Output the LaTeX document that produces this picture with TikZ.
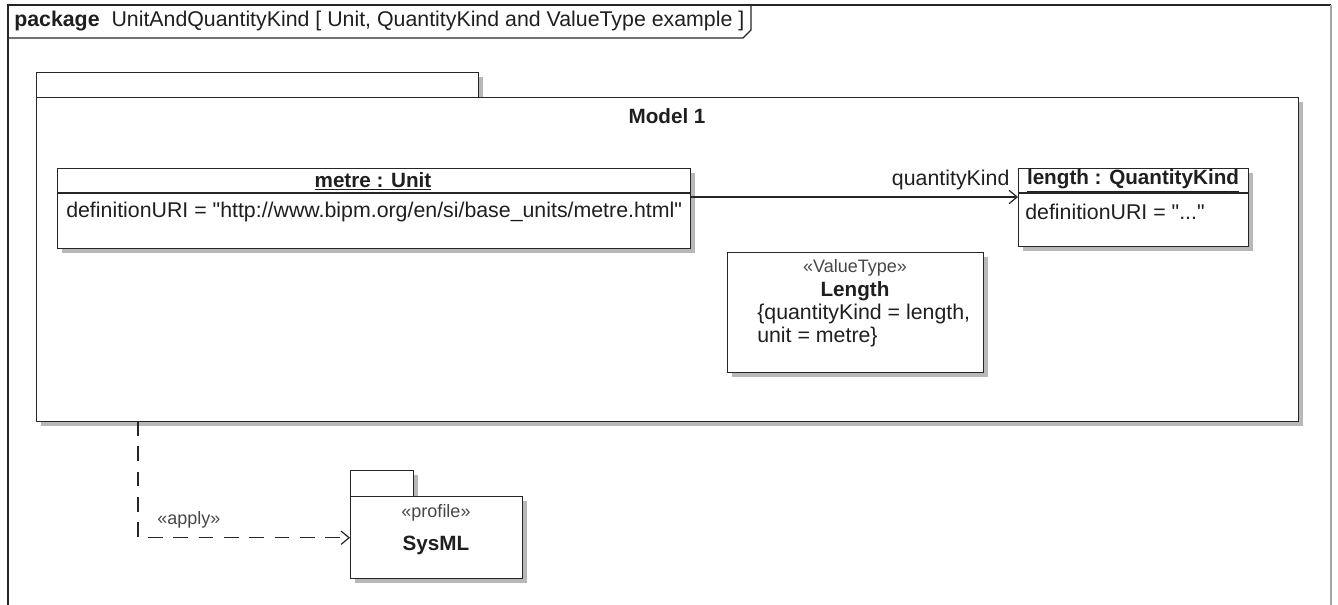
\documentclass[tikz,border=0pt]{standalone}
\usepackage{fontspec}
\setmainfont{Liberation Sans}
\usetikzlibrary{positioning,shadows,arrows.meta}

\newcommand\upx{0.75pt}
\newcommand\qq{\textquotedbl}

\tikzset{
  elem/.style={draw=black!85, line width=1.1pt, fill=white, anchor=north west, inner sep=0pt,
    drop shadow={shadow xshift=3pt, shadow yshift=-3pt, fill=black!28, opacity=1}},
  plain/.style={inner sep=0pt, text=black!88, font=\fontsize{16}{16.8}\selectfont},
  bold/.style={plain, font=\fontsize{15.5}{16.8}\selectfont\bfseries},
  stereo/.style={inner sep=0pt, text=black!72, font=\fontsize{13.5}{15}\selectfont},
  link/.style={draw=black!85, line width=0.9pt, -{Straight Barb[length=6pt,width=10pt]}},
}

\begin{document}
\begin{tikzpicture}[x=0.75pt, y=-0.75pt]
\useasboundingbox (0,0) rectangle (1338,605);

% diagram frame
\draw[black!85, line width=1pt] (8,605) -- (8,5) -- (1331,5);
\draw[black!35, line width=1pt] (1331,5) -- (1331,605);
\draw[black!85, line width=1pt] (8,38) -- (743,38) -- (751,30) -- (751,5);
\node[plain, anchor=west] (frametitle) at (14,21) {\textbf{package}\ \ UnitAndQuantityKind [ Unit, QuantityKind and ValueType example ]};

% Model 1
\node[elem, minimum width=442*\upx, minimum height=25*\upx] (modeltab) at (36,72) {};
\node[elem, minimum width=1262*\upx, minimum height=324*\upx] (model) at (36,97) {};
\node[bold] (modelname) at (667,116) {Model 1};

% metre : Unit
\node[elem, minimum width=633*\upx, minimum height=80*\upx] (metre) at (57,168) {};
\draw[black!85, line width=1.1pt] (metre.west |- 0,193) -- (metre.east |- 0,193);
\node[bold] (metretitle) at (373,181) {\underline{metre : Unit}};
\node[plain, anchor=west] (metreuri) at (66,212) {definitionURI = \qq http://www.bipm.org/en/si/base\_units/metre.html\qq};

% length : QuantityKind
\node[elem, minimum width=230*\upx, minimum height=78*\upx] (length) at (1018,168) {};
\draw[black!85, line width=1.1pt] (length.west |- 0,193) -- (length.east |- 0,193);
\node[bold] (lengthtitle) at (1133,181) {\underline{length : QuantityKind}};
\node[plain, anchor=west] (lengthuri) at (1025,212) {definitionURI = \qq...\qq};

% Length value type
\node[elem, minimum width=256*\upx, minimum height=120*\upx] (lengthvt) at (727,252) {};
\node[stereo] (vtstereo) at (855,268) {«ValueType»};
\node[bold] (vtname) at (855,291) {Length};
\node[plain, anchor=north west, align=left] (vtprops) at (757,304) {\{quantityKind = length,\\unit = metre\}};

% SysML profile
\node[elem, minimum width=63*\upx, minimum height=26*\upx] (sysmltab) at (350,470) {};
\node[elem, minimum width=172*\upx, minimum height=82*\upx] (sysml) at (350,496) {};
\node[stereo] (sysmlstereo) at (436,513) {«profile»};
\node[bold] (sysmlname) at (436,545) {SysML};

% connectors
\draw[link] ([yshift=-29*\upx]metre.north east) -- ([yshift=-29*\upx]length.north west)
  node[plain, pos=1, anchor=south east, xshift=-6pt, yshift=5pt] (qklabel) {quantityKind};
\coordinate (applyfrom) at (138,421);
\draw[link, dash pattern=on 11pt off 8pt] (applyfrom) |- (sysml.west)
  node[stereo, pos=0.62, above=7pt] (applylabel) {«apply»};
\end{tikzpicture}
\end{document}
